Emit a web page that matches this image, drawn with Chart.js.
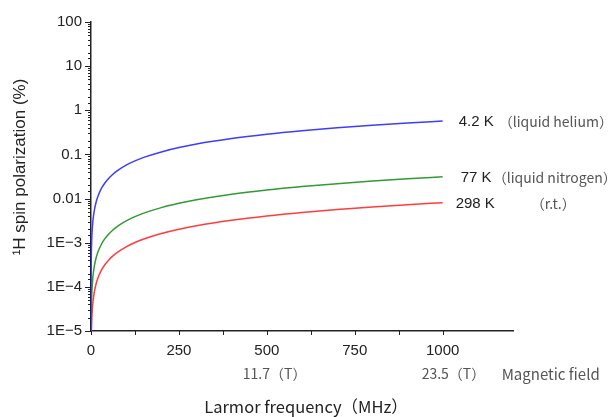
<!DOCTYPE html>
<html>
<head>
<meta charset="utf-8">
<script src="https://cdn.jsdelivr.net/npm/chart.js@4.4.0/dist/chart.umd.min.js"></script>
<style>
  body { margin: 0; background: #fff; }
  #c { display: block; }
</style>
</head>
<body>
<canvas id="c" width="610" height="417"></canvas>
<script>
// Larmor frequency (MHz)
const freqMHz = [0.01, 0.02, 0.05, 0.1, 0.2, 0.5, 1, 2, 3, 5, 7, 10, 15, 20, 30, 40, 50, 60, 75,
  100, 125, 150, 200, 250, 300, 400, 500, 600, 700, 800, 900, 1000];

// 1H spin polarization (%)
const polHelium = [5.72e-6, 1.14e-5, 2.86e-5, 5.72e-5, 1.14e-4, 2.86e-4, 5.72e-4, 1.14e-3, 1.72e-3,
  2.86e-3, 4.00e-3, 5.72e-3, 8.58e-3, 0.0114, 0.0172, 0.0229, 0.0286, 0.0343, 0.0429,
  0.0572, 0.0715, 0.0858, 0.114, 0.143, 0.172, 0.229, 0.286, 0.343, 0.400, 0.458, 0.515, 0.572];
const polNitrogen = [3.12e-7, 6.24e-7, 1.56e-6, 3.12e-6, 6.24e-6, 1.56e-5, 3.12e-5, 6.24e-5, 9.36e-5,
  1.56e-4, 2.18e-4, 3.12e-4, 4.68e-4, 6.24e-4, 9.36e-4, 1.25e-3, 1.56e-3, 1.87e-3, 2.34e-3,
  3.12e-3, 3.90e-3, 4.68e-3, 6.24e-3, 7.80e-3, 9.36e-3, 0.0125, 0.0156, 0.0187, 0.0218, 0.0250, 0.0281, 0.0312];
const polRoom = [8.06e-8, 1.61e-7, 4.03e-7, 8.06e-7, 1.61e-6, 4.03e-6, 8.06e-6, 1.61e-5, 2.42e-5,
  4.03e-5, 5.64e-5, 8.06e-5, 1.21e-4, 1.61e-4, 2.42e-4, 3.22e-4, 4.03e-4, 4.84e-4, 6.05e-4,
  8.06e-4, 1.01e-3, 1.21e-3, 1.61e-3, 2.02e-3, 2.42e-3, 3.22e-3, 4.03e-3, 4.84e-3, 5.64e-3, 6.45e-3, 7.25e-3, 8.06e-3];

const tempLabels = ["4.2 K", "77 K", "298 K"];
const tempNotes = ["（liquid helium）", "（liquid nitrogen）", "（r.t.）"];

const yTickLabels = { 2: "100", 1: "10", 0: "1", "-1": "0.1", "-2": "0.01", "-3": "1E−3", "-4": "1E−4", "-5": "1E−5" };
const xTickLabels = [0, 250, 500, 750, 1000];
const fieldFreqs = [500, 1000];
const fieldLabels = ["11.7（T）", "23.5（T）"];

const colores = ["#3d3dff", "#339a33", "#ff3d3d"];

function pares(ys) {
  return freqMHz.map((x, i) => ({ x: x, y: ys[i] }));
}

function esDecada(v) {
  const l = Math.log10(v);
  return Math.abs(l - Math.round(l)) < 1e-6;
}

const decorado = {
  id: "decorado",
  afterDraw(chart) {
    const ctx = chart.ctx;
    const xs = chart.scales.x;
    const ys = chart.scales.y;
    const area = chart.chartArea;
    ctx.save();
    ctx.strokeStyle = "#222";
    ctx.lineWidth = 1;

    // y tick marks (major and minor)
    ys.ticks.forEach(t => {
      const py = Math.round(ys.getPixelForValue(t.value)) + 0.5;
      const len = esDecada(t.value) ? 6 : 3;
      ctx.beginPath();
      ctx.moveTo(area.left - len, py);
      ctx.lineTo(area.left, py);
      ctx.stroke();
    });

    // x tick marks
    xs.ticks.forEach(t => {
      if (t.value > 1125) return;
      const px = Math.round(xs.getPixelForValue(t.value)) + 0.5;
      ctx.beginPath();
      ctx.moveTo(px, area.bottom);
      ctx.lineTo(px, area.bottom + 4);
      ctx.stroke();
    });

    // labels at the end of each curve
    const series = [polHelium, polNitrogen, polRoom];
    const offK = [16, 18, 13];
    const offNote = [56, 50, 88];
    const xEnd = xs.getPixelForValue(freqMHz[freqMHz.length - 1]);
    series.forEach((s, i) => {
      const py = ys.getPixelForValue(s[s.length - 1]) + 1;
      ctx.textBaseline = "middle";
      ctx.textAlign = "left";
      ctx.fillStyle = "#222";
      ctx.font = "15px 'Liberation Sans', Arial, sans-serif";
      ctx.fillText(tempLabels[i], xEnd + offK[i], py);
      ctx.fillStyle = "#555";
      ctx.font = "14px 'Noto Sans CJK JP', sans-serif";
      ctx.fillText(tempNotes[i], xEnd + offNote[i], py);
    });

    // magnetic field row
    ctx.fillStyle = "#555";
    ctx.font = "14px 'Noto Sans CJK JP', sans-serif";
    ctx.textBaseline = "middle";
    ctx.textAlign = "left";
    const offField = [-24, -21];
    fieldFreqs.forEach((f, i) => {
      ctx.fillText(fieldLabels[i], xs.getPixelForValue(f) + offField[i], 374);
    });
    ctx.font = "15px 'Noto Sans CJK JP', sans-serif";
    ctx.fillText("Magnetic field", xEnd + 59, 374);

    // axis titles
    ctx.fillStyle = "#222";
    ctx.textAlign = "center";
    ctx.font = "16.5px 'Noto Sans CJK JP', sans-serif";
    ctx.fillText("Larmor frequency（MHz）", (area.left + area.right) / 2 + 4, 407);

    ctx.translate(20, 167);
    ctx.rotate(-Math.PI / 2);
    ctx.font = "17px 'Liberation Sans', Arial, sans-serif";
    ctx.fillText("¹H spin polarization (%)", 0, 0);
    ctx.restore();
  }
};

new Chart(document.getElementById("c"), {
  type: "line",
  data: {
    datasets: [
      { label: tempLabels[0], data: pares(polHelium), borderColor: colores[0] },
      { label: tempLabels[1], data: pares(polNitrogen), borderColor: colores[1] },
      { label: tempLabels[2], data: pares(polRoom), borderColor: colores[2] }
    ]
  },
  options: {
    responsive: false,
    animation: false,
    layout: { padding: { left: 0, right: 97, top: 22, bottom: 0 } },
    elements: {
      point: { radius: 0 },
      line: { borderWidth: 1.5, cubicInterpolationMode: "monotone", fill: false }
    },
    plugins: {
      legend: { display: false },
      tooltip: { enabled: false }
    },
    scales: {
      x: {
        type: "linear",
        min: 0,
        max: 1200,
        grid: { display: false, drawTicks: false },
        border: { display: true, color: "#222", width: 1.5 },
        afterFit: s => { s.height = 86; },
        ticks: {
          stepSize: 125,
          autoSkip: false,
          maxRotation: 0,
          padding: 11,
          color: "#222",
          font: { family: "'Liberation Sans', Arial, sans-serif", size: 15 },
          callback: v => (xTickLabels.includes(v) ? String(v) : "")
        }
      },
      y: {
        type: "logarithmic",
        min: 1e-5,
        max: 100,
        grid: { display: false, drawTicks: false },
        border: { display: true, color: "#222", width: 1.5 },
        afterFit: s => { s.width = 91; },
        ticks: {
          autoSkip: false,
          padding: 9,
          color: "#222",
          font: { family: "'Liberation Sans', Arial, sans-serif", size: 15 },
          callback: v => (esDecada(v) ? yTickLabels[Math.round(Math.log10(v))] : "")
        }
      }
    }
  },
  plugins: [decorado]
});
</script>
</body>
</html>
